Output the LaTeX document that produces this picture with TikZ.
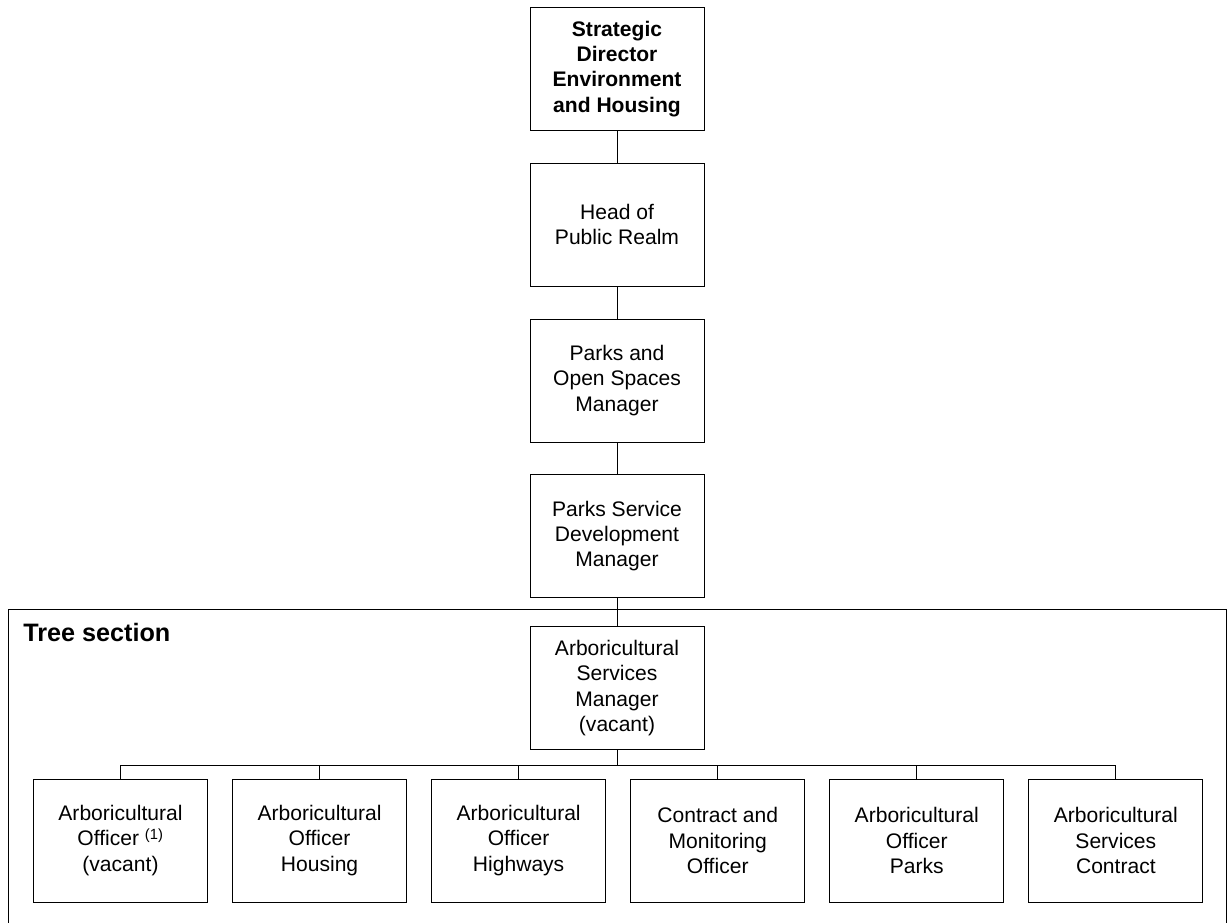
\documentclass[tikz,border=0pt]{standalone}
\usepackage{fontspec}
\setmainfont{Liberation Sans}
\usetikzlibrary{positioning}

\begin{document}
\begin{tikzpicture}[x=0.75pt,y=-0.75pt,
					post/.style={rectangle,
                                        draw=black,
                                        line width=0.6pt,
                                        align=center,
                                        inner sep=1pt,
										minimum width=130.5pt,
                                        minimum height=92.25pt,
                                        font=\fontsize{15.8}{18.9}\selectfont
                                      },
					staffline/.style={
									line width=0.6pt
									}
                     ]
\useasboundingbox (0,0) rectangle (1227,922);
% the chain of command
\node[post,anchor=north,font=\bfseries\fontsize{15.8}{18.9}\selectfont] (SD) at (617,7) {Strategic\\Director\\Environment\\and Housing};
\node[post,below=24pt of SD] (HPR) {Head of\\Public Realm};
\node[post,below=24pt of HPR] (POS) {Parks and\\Open Spaces\\Manager};
\node[post,below=24pt of POS] (PSD) {Parks Service\\Development\\Manager};
% tree section
\draw[staffline] (8,930) -- (8,609) -- (1226,609) -- (1226,930);
\node[anchor=base west,inner sep=0pt,font=\bfseries\fontsize{18.9}{22}\selectfont] (TS) at (23,641) {Tree section};
\node[post,below=21pt of PSD] (ASM) {Arboricultural\\Services\\Manager\\(vacant)};
\node[post,anchor=center] (AO1) at (120.5,840.5) {Arboricultural\\Officer \textsuperscript{(1)}\\(vacant)};
\node[post,right=18.2pt of AO1] (AOH) {Arboricultural\\Officer\\Housing};
\node[post,right=18.2pt of AOH] (AOW) {Arboricultural\\Officer\\Highways};
\node[post,right=18.2pt of AOW] (CMO) {Contract and\\Monitoring\\Officer};
\node[post,right=18.2pt of CMO] (AOP) {Arboricultural\\Officer\\Parks};
\node[post,right=18.2pt of AOP] (ASC) {Arboricultural\\Services\\Contract};
% connectors
\draw[staffline] (SD) -- (HPR);
\draw[staffline] (HPR) -- (POS);
\draw[staffline] (POS) -- (PSD);
\draw[staffline] (PSD) -- (ASM);
\foreach \n in {AO1,AOH,AOW,CMO,AOP,ASC}
  \draw[staffline] (ASM.south) -- ++(0,15) -| (\n.north);
\end{tikzpicture}
\end{document}
